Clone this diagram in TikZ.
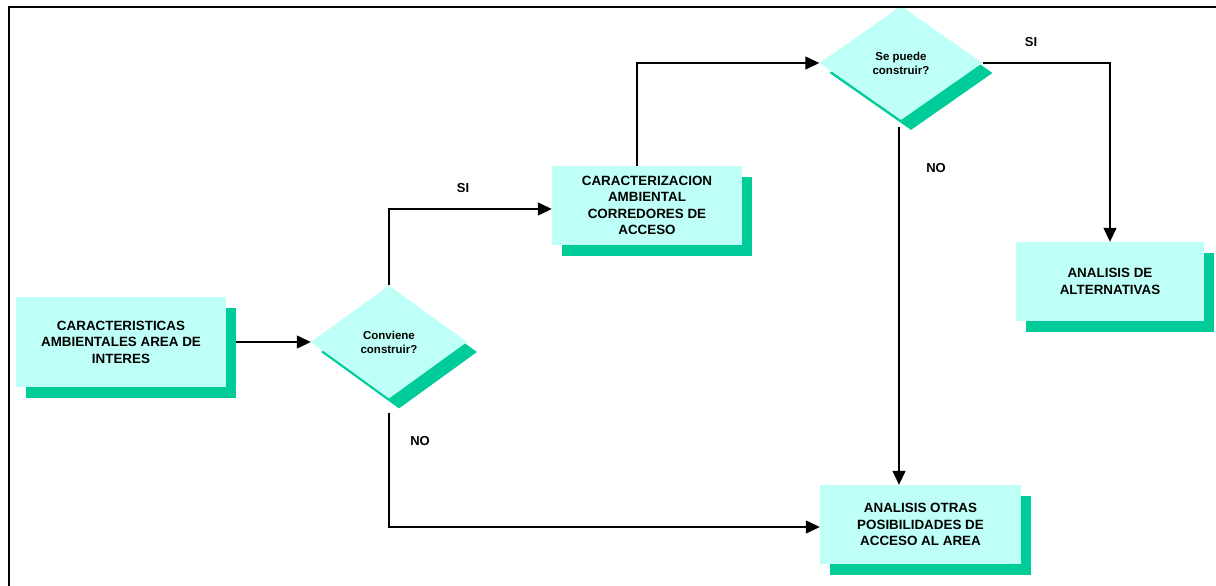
\documentclass[tikz,border=0pt]{standalone}
\usepackage{fontspec}
\setmainfont{Liberation Sans}
\usetikzlibrary{shapes.geometric,shadows,arrows.meta}
\definecolor{lightc}{RGB}{190,255,247}
\definecolor{shadc}{RGB}{0,204,153}
\tikzset{
  box/.style={rectangle, fill=lightc, inner sep=0pt, align=center,
    font=\fontsize{13.4}{16.5}\selectfont\bfseries,
    drop shadow={shadow xshift=10pt, shadow yshift=-11pt, fill=shadc, opacity=1}},
  decision/.style={diamond, fill=lightc, inner sep=0pt, align=center,
    font=\fontsize{11.5}{14}\selectfont\bfseries,
    drop shadow={shadow xshift=10pt, shadow yshift=-10pt, fill=shadc, opacity=1}},
  conn/.style={line width=1.3pt, -{Triangle[length=14pt,width=13pt]}},
  lbl/.style={font=\fontsize{13}{15}\selectfont\bfseries, inner sep=0pt}
}
\begin{document}
\begin{tikzpicture}[x=1pt,y=-1pt]
\useasboundingbox (0,0) rectangle (1216,586);
\fill[white] (0,0) rectangle (1216,586);

\node[box, minimum width=210pt, minimum height=90pt] (b1) at (121,342)
  {CARACTERISTICAS\\AMBIENTALES AREA DE\\INTERES};
\node[decision, minimum width=156pt, minimum height=113pt] (d1) at (389,342)
  {Conviene\\construir?};
\node[box, minimum width=190pt, minimum height=79pt] (b2) at (647,205.5)
  {CARACTERIZACION\\AMBIENTAL\\CORREDORES DE\\ACCESO};
\node[decision, minimum width=163pt, minimum height=114pt] (d2) at (901,63)
  {Se puede\\construir?};
\node[box, minimum width=188pt, minimum height=79pt] (b3) at (1110,281.5)
  {ANALISIS DE\\ALTERNATIVAS};
\node[box, minimum width=201pt, minimum height=79pt] (b4) at (920.5,524.5)
  {ANALISIS OTRAS\\POSIBILIDADES DE\\ACCESO AL AREA};

\draw[line width=2.2pt] (9,586) -- (9,7) -- (1216,7);

\coordinate (b1e) at ([xshift=10pt]b1.east);
\draw[conn] (b1e |- d1.west) -- (d1.west);
\draw[conn] (d1.north) |- ([yshift=-3.5pt]b2.west);
\draw[conn] ([yshift=-14pt]d1.south) |- ([yshift=-2.5pt]b4.west);
\draw[conn] ([xshift=-10pt]b2.north) |- (d2.west);
\draw[conn] (d2.east) -| (b3.north);
\coordinate (d2s) at ([xshift=-2pt,yshift=-7pt]d2.south);
\draw[conn] (d2s) -- (d2s |- b4.north);

\node[lbl] (si1) at (463,188) {SI};
\node[lbl] (no1) at (420,441) {NO};
\node[lbl] (si2) at (1031,42) {SI};
\node[lbl] (no2) at (936,168) {NO};
\end{tikzpicture}
\end{document}
